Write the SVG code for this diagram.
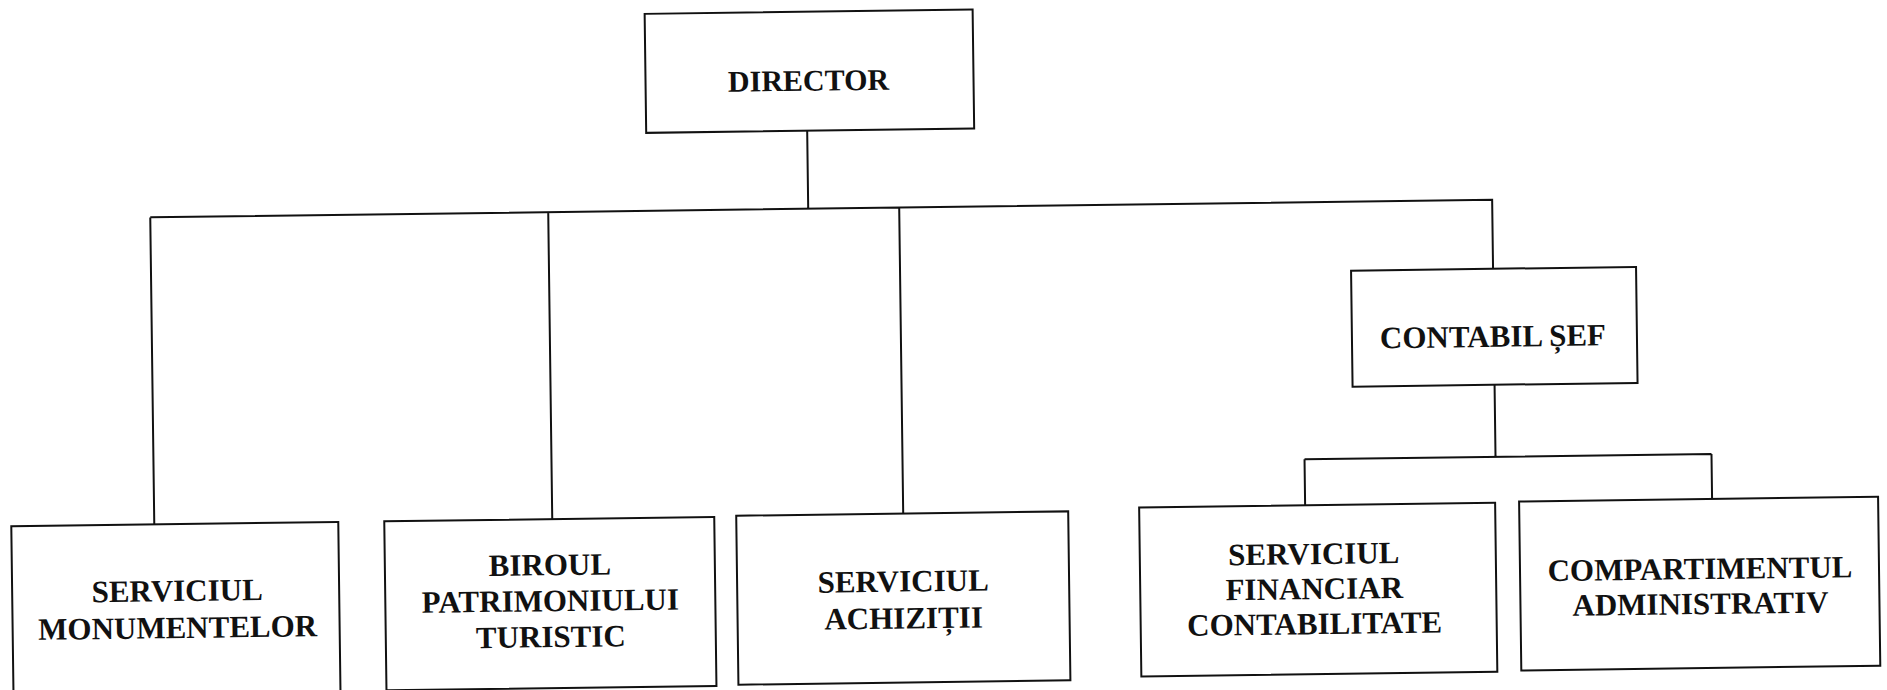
<svg xmlns="http://www.w3.org/2000/svg" width="1887" height="690" viewBox="0 0 1887 690">
<style>
.box{fill:#fff;stroke:#111;stroke-width:2}
.ln{fill:none;stroke:#111;stroke-width:2}
.t{font-family:"Liberation Serif","Times New Roman",serif;font-weight:bold;font-size:31px;fill:#111;text-anchor:middle}
</style>
<rect width="1887" height="690" fill="#fff"/>
<g transform="rotate(-0.75 943 345)">
<g id="connectors">
<path class="ln" d="M810 129V207M152 207H1494V276M152 207V514M550 207V514M901 207V513"/>
<path class="ln" d="M1494 392V464M1303 464H1710M1303 464V510M1710 464V509"/>
</g>
<g id="director">
<rect class="box" x="649" y="10" width="328" height="119"/>
<text class="t" x="812" y="89" style="font-size:30px">DIRECTOR</text>
</g>
<g id="contabil-sef">
<rect class="box" x="1352" y="276" width="285" height="116"/>
<text class="t" x="1493" y="354">CONTABIL ȘEF</text>
</g>
<g id="serviciul-monumentelor">
<rect class="box" x="9" y="514" width="327" height="169"/>
<text class="t" x="174" y="591">SERVICIUL</text>
<text class="t" x="174" y="628">MONUMENTELOR</text>
</g>
<g id="biroul-patrimoniului">
<rect class="box" x="382" y="514" width="330" height="169"/>
<text class="t" x="547" y="570">BIROUL</text>
<text class="t" x="547" y="606">PATRIMONIULUI</text>
<text class="t" x="547" y="642">TURISTIC</text>
</g>
<g id="serviciul-achizitii">
<rect class="box" x="734" y="513" width="332" height="169"/>
<text class="t" x="900" y="591">SERVICIUL</text>
<text class="t" x="900" y="628">ACHIZIȚII</text>
</g>
<g id="serviciul-financiar">
<rect class="box" x="1137" y="510" width="356" height="169"/>
<text class="t" x="1311" y="569">SERVICIUL</text>
<text class="t" x="1311" y="604">FINANCIAR</text>
<text class="t" x="1311" y="639">CONTABILITATE</text>
</g>
<g id="compartimentul-administrativ">
<rect class="box" x="1517" y="509" width="359" height="169"/>
<text class="t" x="1697" y="589">COMPARTIMENTUL</text>
<text class="t" x="1697" y="624">ADMINISTRATIV</text>
</g>
</g>
</svg>
